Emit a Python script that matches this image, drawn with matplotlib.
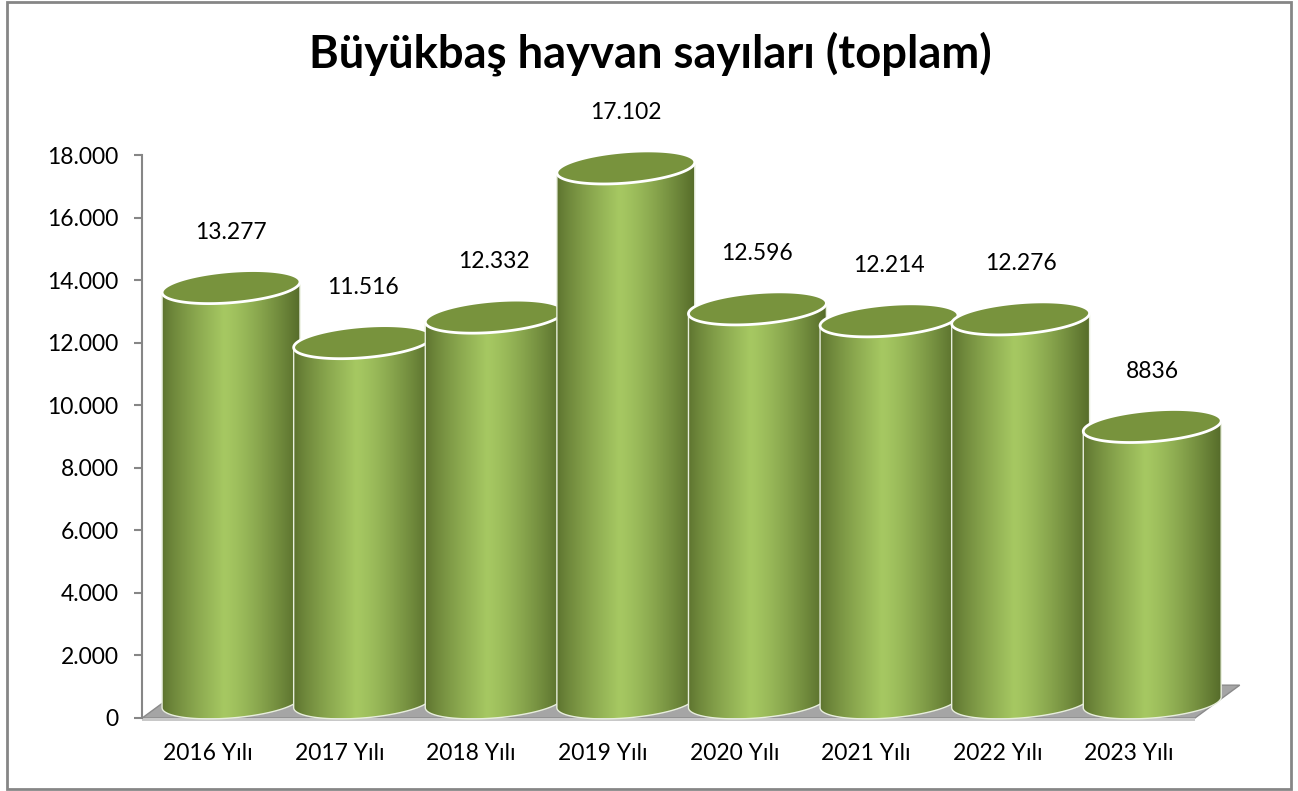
import numpy as np
import matplotlib
matplotlib.use("Agg")
import matplotlib.pyplot as plt
from matplotlib.patches import Polygon, PathPatch, Rectangle
from matplotlib.path import Path

# ---- data ----
categories = ["2016 Yılı", "2017 Yılı", "2018 Yılı", "2019 Yılı",
              "2020 Yılı", "2021 Yılı", "2022 Yılı", "2023 Yılı"]
values = [13277, 11516, 12332, 17102, 12596, 12214, 12276, 8836]
value_labels = ["13.277", "11.516", "12.332", "17.102", "12.596", "12.214", "12.276", "8836"]
yticks = [0, 2000, 4000, 6000, 8000, 10000, 12000, 14000, 16000, 18000]
ytick_labels = ["0", "2.000", "4.000", "6.000", "8.000", "10.000", "12.000", "14.000", "16.000", "18.000"]
title = "Büyükbaş hayvan sayıları (toplam)"

FONT = ["Lato", "DejaVu Sans"]
plt.rcParams["font.family"] = FONT

W, H = 1298, 791
fig = plt.figure(figsize=(W / 100, H / 100), dpi=100)

# axes placed in pixel terms (extra room on the right for the 3D depth)
step_px = 131.6
x0_px = 142.2
x1_px = x0_px + 8.6 * step_px
y0_px, y1_px = 718.0, 155.0
ax = fig.add_axes([x0_px / W, (H - y0_px) / H, (x1_px - x0_px) / W, (y0_px - y1_px) / H])
XL = (-0.5, 8.1)
ax.set_xlim(*XL)
ax.set_ylim(0, 18000)

# style parameters
depth_dx = 0.175      # cylinder shift to the right (depth)
half_w = 0.524        # half width of cylinder in x units
ell_b = 500           # semi-minor axis of ellipses (value units)
shear = 170           # y rise at the right end of the ellipse

dark_l = np.array([0x5c, 0x72, 0x2e]) / 255
light = np.array([0xa6, 0xc8, 0x62]) / 255
dark_r = np.array([0x56, 0x6c, 0x2a]) / 255

t = np.linspace(0, 1, 256)
grad = np.zeros((1, 256, 3))
for k, tt in enumerate(t):
    peak = 0.45
    if tt < peak:
        f = (tt / peak) ** 0.8
        c = dark_l + (light - dark_l) * f
    else:
        f = ((tt - peak) / (1 - peak)) ** 1.3
        c = light + (dark_r - light) * f
    grad[0, k] = c

# floor
fdx, fdy = 0.34, 1050
floor_pts = [(-0.5, 0), (7.5, 0), (7.5 + fdx, fdy), (-0.5 + fdx, fdy)]
ax.add_patch(Polygon(floor_pts, closed=True, facecolor="#a5a5a5", edgecolor="#8a8a8a",
                     lw=1.0, zorder=1, clip_on=False))
ax.add_patch(Polygon([(-0.5, 0), (7.5, 0), (7.5, -90), (-0.5, -90)], closed=True,
                     facecolor="#c8c8c8", edgecolor="none", zorder=1, clip_on=False))

theta = np.linspace(0, 2 * np.pi, 200)
for i, v in enumerate(values):
    cx = i + depth_dx
    zb = 2 + i * 0.1
    top_c = v + ell_b
    base_c = ell_b
    th = np.linspace(np.pi, 2 * np.pi, 100)
    bx = cx + half_w * np.cos(th)
    by = base_c + ell_b * np.sin(th) + shear * np.cos(th)
    verts = [(cx - half_w, top_c - shear)] + list(zip(bx, by)) + [(cx + half_w, top_c + shear), (cx - half_w, top_c - shear)]
    codes = [Path.MOVETO] + [Path.LINETO] * (len(verts) - 2) + [Path.CLOSEPOLY]
    body = PathPatch(Path(verts, codes), facecolor="none", edgecolor="#e8eedd", lw=1.0,
                     zorder=zb + 0.02, clip_on=False)
    ax.add_patch(body)
    im = ax.imshow(grad, extent=[cx - half_w, cx + half_w, -200, top_c + 400],
                   aspect="auto", zorder=zb, interpolation="bilinear")
    im.set_clip_path(body)
    # top ellipse
    ex = cx + half_w * np.cos(theta)
    ey = top_c + ell_b * np.sin(theta) + shear * np.cos(theta)
    ax.add_patch(Polygon(np.column_stack([ex, ey]), closed=True, facecolor="#78933d",
                         edgecolor="white", lw=2.0, zorder=zb + 0.05, clip_on=False))
    # value label
    ax.text(cx, v + 2250, value_labels[i], ha="center", va="center", fontsize=16.5,
            color="black", zorder=20, clip_on=False)

ax.set_xlim(*XL)
ax.set_ylim(0, 18000)
ax.set_aspect("auto")

# axes styling
for s in ["top", "right", "bottom"]:
    ax.spines[s].set_visible(False)
ax.spines["left"].set_color("#868686")
ax.spines["left"].set_linewidth(1.5)
ax.set_yticks(yticks)
ax.set_yticklabels(ytick_labels, fontsize=16.5)
ax.tick_params(axis="y", length=6, width=1.5, color="#868686", pad=11)
ax.set_xticks(range(len(categories)))
ax.set_xticklabels(categories, fontsize=16.5)
ax.tick_params(axis="x", length=0, pad=18)
ax.set_facecolor("none")

fig.text(650 / W, 1 - 54 / H, title, ha="center", va="center", fontsize=32.7,
         fontweight="bold", color="black")

# outer border
fig.patches.append(Rectangle((7 / W, 1 - 789 / H), (1291 - 7) / W, (789 - 2) / H,
                             transform=fig.transFigure, fill=False, edgecolor="#868686",
                             lw=2, zorder=0))

fig.savefig("out.png", dpi=100)
